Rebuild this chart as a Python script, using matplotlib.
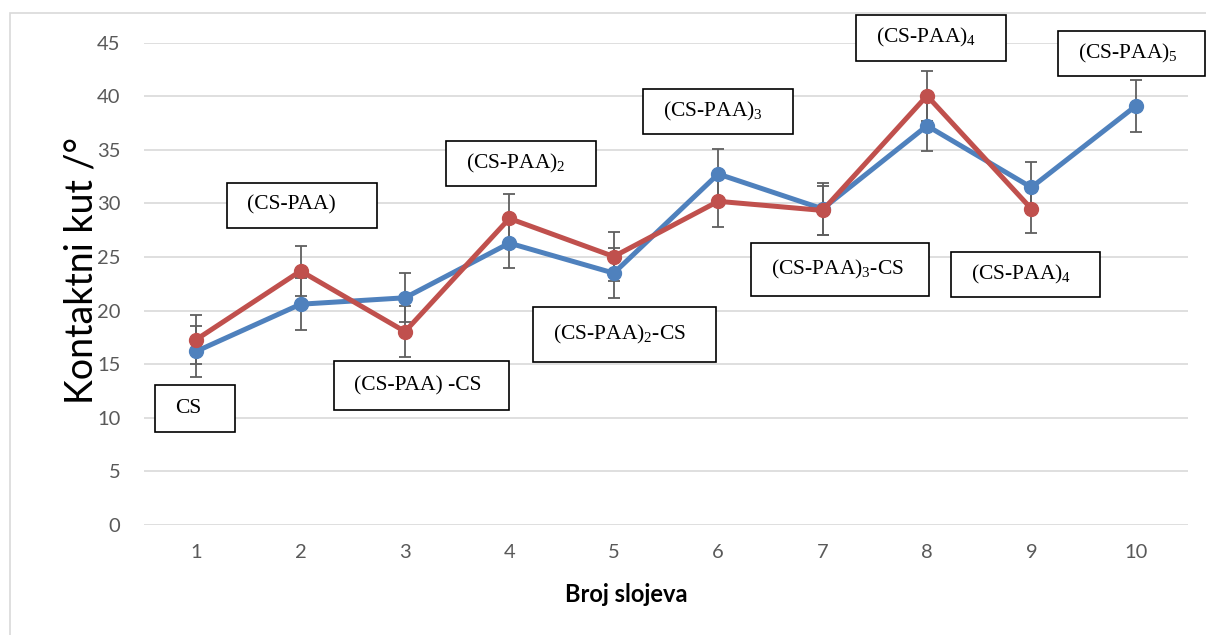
import matplotlib
matplotlib.use("Agg")
import matplotlib.pyplot as plt
from matplotlib.patches import Rectangle

# ---- data ----
layers = [1, 2, 3, 4, 5, 6, 7, 8, 9, 10]
blue_vals = [16.2, 20.6, 21.2, 26.3, 23.5, 32.75, 29.5, 37.25, 31.5, 39.1]
blue_err = [2.4, 2.4, 2.3, 2.3, 2.35, 2.35, 2.4, 2.35, 2.4, 2.4]
red_layers = [1, 2, 3, 4, 5, 6, 7, 8, 9]
red_vals = [17.3, 23.7, 18.05, 28.6, 25.05, 30.2, 29.35, 40.05, 29.5]
red_err = [2.3, 2.3, 2.35, 2.3, 2.25, 2.35, 2.3, 2.35, 2.3]
y_ticks = [0, 5, 10, 15, 20, 25, 30, 35, 40, 45]

# annotation labels and their boxes (x0, x1, y0, y1) in data units
labels = ["CS", "(CS-PAA)", "(CS-PAA) -CS", "(CS-PAA)$_2$", "(CS-PAA)$_2$-CS",
          "(CS-PAA)$_3$", "(CS-PAA)$_3$-CS", "(CS-PAA)$_4$", "(CS-PAA)$_4$", "(CS-PAA)$_5$"]
boxes = [(0.607, 1.374, 8.68, 13.07),
         (1.297, 2.734, 27.73, 31.93),
         (2.322, 3.998, 10.74, 15.31),
         (3.395, 4.831, 31.65, 35.85),
         (4.228, 5.981, 15.22, 20.35),
         (5.282, 6.718, 36.51, 40.71),
         (6.316, 8.021, 21.38, 26.33),
         (7.322, 8.759, 43.32, 47.62),
         (8.232, 9.659, 21.29, 25.49),
         (9.257, 10.66, 41.92, 46.12)]

BLUE = "#4F81BD"
RED = "#C0504D"
GRID = "#D9D9D9"
TICK = "#595959"
ERR = "#5F5F5F"

plt.rcParams["mathtext.default"] = "regular"

W, H = 1206, 635
fig = plt.figure(figsize=(W / 100, H / 100), dpi=100)
fig.patch.set_facecolor("white")

# outer chart frame
fig.patches.append(Rectangle((10 / W, -0.1), 1.2, 1 - 13 / H + 0.1, transform=fig.transFigure,
                             fill=False, edgecolor=GRID, linewidth=1.2))

ax = fig.add_axes([144 / W, 1 - 525 / H, 1044 / W, (525 - 42.7) / H])
ax.set_xlim(0.5, 10.5)
ax.set_ylim(0, 45)
ax.set_yticks(y_ticks)
ax.set_xticks(layers)
ax.grid(axis="y", color=GRID, linewidth=1.2, zorder=0)
ax.set_axisbelow(True)
for s in ax.spines.values():
    s.set_visible(False)
ax.tick_params(axis="both", length=0, colors=TICK, labelsize=14.5)
ax.tick_params(axis="y", pad=17)
ax.tick_params(axis="x", pad=14)
for lab in ax.get_xticklabels() + ax.get_yticklabels():
    lab.set_fontfamily("Lato")

# series
ax.errorbar(layers, blue_vals, yerr=blue_err, fmt="none", ecolor=ERR, elinewidth=1.3,
            capsize=4, capthick=1.3, zorder=2)
ax.errorbar(red_layers, red_vals, yerr=red_err, fmt="none", ecolor=ERR, elinewidth=1.3,
            capsize=4, capthick=1.3, zorder=2)
ax.plot(layers, blue_vals, color=BLUE, linewidth=3.6, marker="o", markersize=10, zorder=3)
ax.plot(red_layers, red_vals, color=RED, linewidth=3.6, marker="o", markersize=10, zorder=4)

# annotation boxes
xoff = 20 / 104.4
for text, (x0, x1, y0, y1) in zip(labels, boxes):
    ax.add_patch(Rectangle((x0, y0), x1 - x0, y1 - y0, facecolor="white", edgecolor="black",
                           linewidth=1.2, zorder=6, clip_on=False))
    ax.text(x0 + xoff, (y0 + y1) / 2, text, fontfamily="Liberation Serif", fontsize=15.5,
            ha="left", va="center", zorder=7, clip_on=False)

# axis titles
fig.text(81 / W, 1 - 270 / H, "Kontaktni kut /°", rotation=90, ha="center", va="center",
         fontfamily="Lato", fontsize=27, color="black")
fig.text(626 / W, 1 - 594 / H, "Broj slojeva", ha="center", va="center",
         fontfamily="Lato", fontweight="bold", fontsize=17, color="black")

fig.savefig("out.png", dpi=100)
